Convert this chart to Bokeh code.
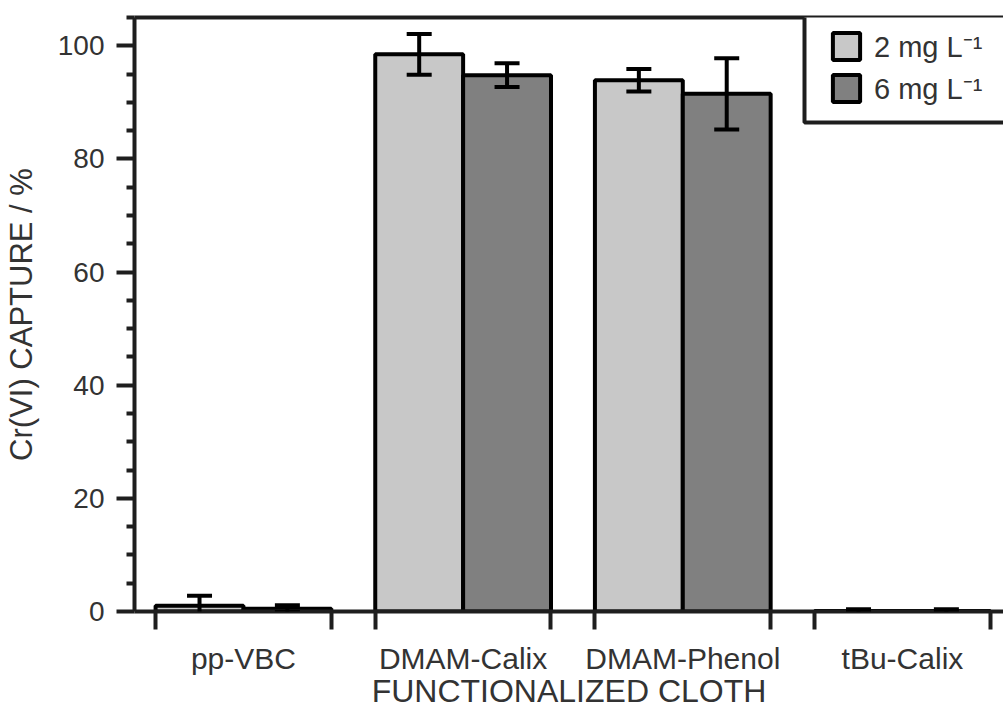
import numpy as np
from bokeh.plotting import figure
from bokeh.models import (ColumnDataSource, FixedTicker, LinearAxis, Range1d,
                          Whisker, TeeHead, Legend, LegendItem, BoxAnnotation)
from bokeh.transform import dodge
from bokeh.embed import file_html
from bokeh.resources import INLINE

categories = ["pp-VBC", "DMAM-Calix", "DMAM-Phenol", "tBu-Calix"]
series_names = ["2 mg L\u207b\u00b9", "6 mg L\u207b\u00b9"]
capture_2 = [1.0, 98.5, 93.9, 0.1]
err_2 = [1.8, 3.6, 2.0, 0.3]
capture_6 = [0.5, 94.8, 91.5, 0.1]
err_6 = [0.6, 2.1, 6.3, 0.3]
y_ticks = [0, 20, 40, 60, 80, 100]
y_minor = [5, 10, 15, 25, 30, 35, 45, 50, 55, 65, 70, 75, 85, 90, 95, 105]

FONT = "Liberation Sans"
TEXT = "#333333"
LINE = "#1e1e1e"
LW = 4

xpos = list(range(len(categories)))
src = ColumnDataSource(dict(
    x=xpos,
    v2=capture_2, lo2=[v - e for v, e in zip(capture_2, err_2)], hi2=[v + e for v, e in zip(capture_2, err_2)],
    v6=capture_6, lo6=[v - e for v, e in zip(capture_6, err_6)], hi6=[v + e for v, e in zip(capture_6, err_6)],
))

p = figure(width=1003, height=711, output_backend="svg", toolbar_location=None,
           x_range=Range1d(-0.496, 3.46), y_range=Range1d(0, 105),
           min_border_left=125, min_border_top=17, min_border_right=0, min_border_bottom=99,
           x_axis_label="FUNCTIONALIZED CLOTH", y_axis_label="Cr(VI) CAPTURE / %")
p.outline_line_color = None
p.grid.visible = False
p.background_fill_color = "white"

off = 0.2
r2 = p.vbar(x=dodge("x", -off, range=p.x_range), top="v2", width=0.4, source=src,
            fill_color="#c8c8c8", line_color="black", line_width=LW)
r6 = p.vbar(x=dodge("x", off, range=p.x_range), top="v6", width=0.4, source=src,
            fill_color="#808080", line_color="black", line_width=LW)

for key, d in (("2", -off), ("6", off)):
    w = Whisker(base=dodge("x", d, range=p.x_range), upper="hi" + key, lower="lo" + key, source=src,
                line_color="black", line_width=LW, level="overlay",
                upper_head=TeeHead(size=25, line_width=LW, line_color="black"),
                lower_head=TeeHead(size=25, line_width=LW, line_color="black"))
    p.add_layout(w)

# x axis
xa = p.xaxis[0]
edges = []
for i in xpos:
    edges += [i - 0.4, i + 0.4]
xa.ticker = FixedTicker(ticks=xpos, minor_ticks=edges)
xa.major_label_overrides = {i: c for i, c in zip(xpos, categories)}
xa.major_tick_out = 0
xa.major_tick_in = 0
xa.minor_tick_out = 18
xa.minor_tick_in = 0
xa.minor_tick_line_width = LW
xa.minor_tick_line_color = LINE
xa.axis_line_width = LW
xa.axis_line_color = LINE
xa.major_label_standoff = 12
xa.major_label_text_font = FONT
xa.major_label_text_font_size = "30px"
xa.major_label_text_color = TEXT
xa.axis_label_standoff = -5
xa.axis_label_text_font = FONT
xa.axis_label_text_font_size = "32px"
xa.axis_label_text_font_style = "normal"
xa.axis_label_text_color = TEXT

# y axis
ya = p.yaxis[0]
ya.ticker = FixedTicker(ticks=y_ticks, minor_ticks=y_minor)
ya.major_tick_out = 18
ya.major_tick_in = 0
ya.minor_tick_out = 8
ya.minor_tick_in = 0
ya.major_tick_line_width = LW
ya.minor_tick_line_width = LW
ya.major_tick_line_color = LINE
ya.minor_tick_line_color = LINE
ya.axis_line_width = LW
ya.axis_line_color = LINE
ya.major_label_standoff = 12
ya.major_label_text_font = FONT
ya.major_label_text_font_size = "28px"
ya.major_label_text_color = TEXT
ya.axis_label_standoff = 16
ya.axis_label_text_font = FONT
ya.axis_label_text_font_size = "31px"
ya.axis_label_text_font_style = "normal"
ya.axis_label_text_color = TEXT

# top frame line
top = LinearAxis(ticker=FixedTicker(ticks=[]), axis_line_width=LW, axis_line_color=LINE,
                 major_tick_out=0, major_tick_in=0, minor_tick_out=0, minor_tick_in=0,
                 major_label_standoff=0)
p.add_layout(top, "above")

# legend frame
p.add_layout(BoxAnnotation(left=670, right=1100, bottom=489, top=600,
                           left_units="screen", right_units="screen",
                           bottom_units="screen", top_units="screen",
                           fill_color="white", fill_alpha=1.0,
                           line_color=LINE, line_width=LW, line_alpha=1.0))

legend = Legend(items=[LegendItem(label=series_names[0], renderers=[r2]),
                       LegendItem(label=series_names[1], renderers=[r6])],
                location=(695, 504), padding=0, spacing=3, margin=0,
                glyph_width=34, glyph_height=34, label_standoff=11,
                label_text_font=FONT, label_text_font_size="29px", label_text_color=TEXT,
                border_line_color=None, background_fill_alpha=0.0)
p.add_layout(legend)

open("out.html", "w").write(file_html(p, INLINE))
